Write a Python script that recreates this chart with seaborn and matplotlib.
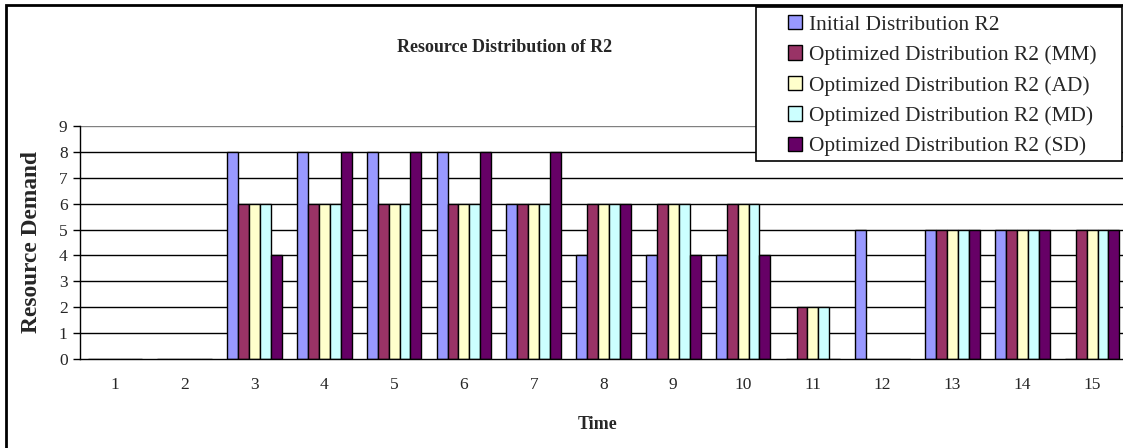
import matplotlib
matplotlib.use("Agg")
import matplotlib.pyplot as plt
import seaborn as sns
import pandas as pd
from matplotlib.patches import Rectangle

time_labels = [str(i) for i in range(1, 16)]
initial = [0, 0, 8, 8, 8, 8, 6, 4, 4, 4, 0, 5, 5, 5, 0]
opt_mm = [0, 0, 6, 6, 6, 6, 6, 6, 6, 6, 2, 0, 5, 5, 5]
opt_ad = [0, 0, 6, 6, 6, 6, 6, 6, 6, 6, 2, 0, 5, 5, 5]
opt_md = [0, 0, 6, 6, 6, 6, 6, 6, 6, 6, 2, 0, 5, 5, 5]
opt_sd = [0, 0, 4, 8, 8, 8, 8, 6, 4, 4, 0, 0, 5, 5, 5]

series_names = [
    "Initial Distribution R2",
    "Optimized Distribution R2 (MM)",
    "Optimized Distribution R2 (AD)",
    "Optimized Distribution R2 (MD)",
    "Optimized Distribution R2 (SD)",
]
series_values = [initial, opt_mm, opt_ad, opt_md, opt_sd]
colors = ["#9999FF", "#993366", "#FFFFCC", "#CCFFFF", "#660066"]

rows = []
for name, vals in zip(series_names, series_values):
    for t, v in zip(time_labels, vals):
        rows.append({"Time": t, "Demand": v, "Series": name})
df = pd.DataFrame(rows)

sns.set_theme(style="white")
plt.rcParams["font.family"] = ["Liberation Serif", "DejaVu Serif"]

W, H = 1123, 448
fig = plt.figure(figsize=(W / 100, H / 100), dpi=100)
ax = fig.add_axes([80 / W, 1 - 359 / H, 1047 / W, 233 / H])

sns.barplot(data=df, x="Time", y="Demand", hue="Series", order=time_labels,
            hue_order=series_names, palette=colors, edgecolor="black",
            linewidth=1, width=0.78, gap=0, ax=ax, saturation=1, legend=True)

ax.set_xlim(-0.5, 14.5)
ax.set_ylim(0, 9)
ax.set_yticks(range(0, 10))
ax.yaxis.grid(True, color="black", linewidth=1)
ax.set_axisbelow(True)
gl = ax.get_ygridlines()
gl[-1].set_color("#808080")
gl[0].set_visible(False)

ax.set_xticks(range(15))
ax.set_xticklabels(time_labels)
ax.set_xticks([i - 0.5 for i in range(16)], minor=True)
ax.tick_params(axis="x", which="major", length=0, pad=13, labelsize=12.5)
ax.tick_params(axis="x", which="minor", length=5, width=1, color="black", direction="out")
ax.tick_params(axis="y", which="major", length=5, width=1, color="black", direction="out",
               left=True, labelsize=12.5, pad=4)
for s in ["top", "right"]:
    ax.spines[s].set_visible(False)
for s in ["left", "bottom"]:
    ax.spines[s].set_color("black")
    ax.spines[s].set_linewidth(1)

ax.set_xlabel("")
ax.set_ylabel("")
fig.text(598 / W, 1 - 424 / H, "Time", fontsize=13, fontweight="bold",
         ha="center", va="center")
fig.text(32 / W, 1 - 242 / H, "Resource Demand", fontsize=16.8, fontweight="bold",
         ha="center", va="center", rotation=90)

fig.text(505 / W, 1 - 48 / H, "Resource Distribution of R2", fontsize=13,
         fontweight="bold", ha="center", va="center")

handles, labels = ax.get_legend_handles_labels()
ax.legend_.remove()

fig.patches.append(Rectangle((756 / W, 1 - 161 / H), (1122 - 756) / W, 154 / H,
                             facecolor="white", edgecolor="black", linewidth=1.2,
                             transform=fig.transFigure, figure=fig, zorder=9))
leg = fig.legend(handles, labels, loc="upper left",
                 bbox_to_anchor=(788 / W, 1 - 15 / H), bbox_transform=fig.transFigure,
                 frameon=False, fontsize=15.4,
                 handlelength=0.65, handleheight=0.65, handletextpad=0.35,
                 labelspacing=0.5, borderpad=0, borderaxespad=0)
leg.set_zorder(10)

fig.patches.append(Rectangle((6 / W, -0.1), 1.2, 1 - 5 / H + 0.1, fill=False,
                             edgecolor="black", linewidth=2, transform=fig.transFigure,
                             figure=fig, zorder=11))

fig.savefig("out.png", dpi=100, facecolor="white")
